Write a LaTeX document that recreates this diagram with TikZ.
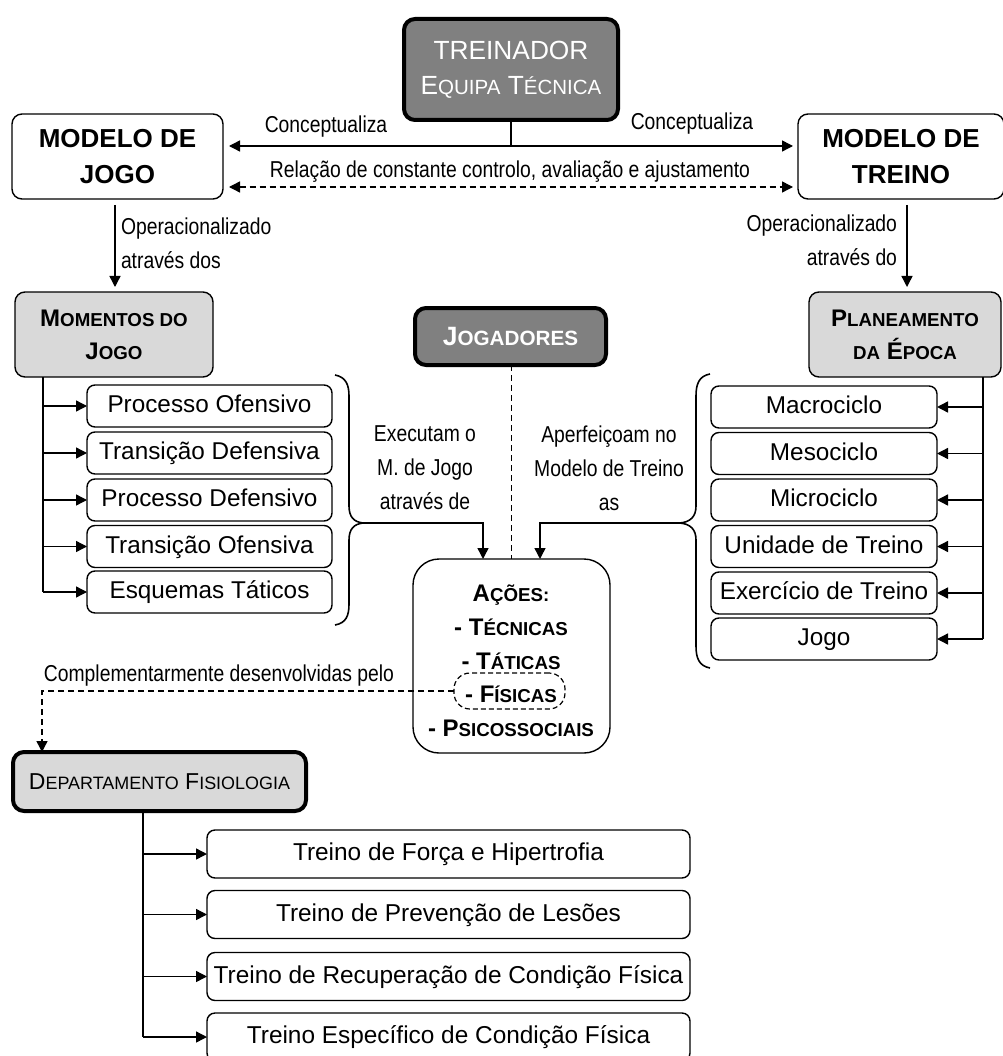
\documentclass[tikz,border=0pt]{standalone}
\usepackage{fontspec}
\setmainfont{Liberation Sans}
\newfontfamily\narrowfont[FakeStretch=0.84]{Liberation Sans}
\usetikzlibrary{arrows.meta,calc}
\definecolor{darkfill}{gray}{0.5}
\definecolor{lightfill}{gray}{0.85}
\makeatletter
% reduced capitals for the small-caps look
\newcommand\smc[1]{{\fontsize{\dimexpr0.78\dimexpr\f@size pt\relax\relax}{0pt}\selectfont #1}}
\makeatother
\newcommand\fs[2]{\fontsize{#1}{#2}\selectfont}

\begin{document}
\begin{tikzpicture}[x=1pt,y=-1pt,
  every node/.style={inner sep=0pt,outer sep=0pt},
  endtip/.style={-{Triangle[length=11pt,width=11pt]}},
  wire/.style={line width=1.4pt},
  conn/.style={wire,endtip},
  dconn/.style={wire,endtip,dash pattern=on 6pt off 4pt},
  roundbox/.style={draw,line width=1.4pt,rounded corners=10pt,fill=white},
  heavy/.style={draw,line width=4pt,rounded corners=11pt},
  darkbox/.style={heavy,fill=darkfill,text=white},
  headbox/.style={roundbox,fill=lightfill,font=\bfseries\fs{24}{33},align=center},
  itembox/.style={roundbox,rounded corners=8pt,minimum height=42pt,font=\fs{24.3}{28},text height=17.3pt,text depth=4pt},
  physbox/.style={roundbox,rounded corners=8pt,minimum width=483pt,minimum height=48pt,font=\fs{24.4}{28},text height=17.3pt,text depth=4pt},
  lbl/.style={font=\narrowfont\fs{23}{34}},
  oneline/.style={text height=16.6pt,text depth=0pt},
  brace/.style={line width=1.6pt},
]
\useasboundingbox (0,0) rectangle (1002,1056);
\fill[white] (0,0) rectangle (1002,1056);

% --- top level
\node[darkbox,minimum width=214pt,minimum height=101pt,font=\fs{26.3}{35},align=center] (coach) at (511,69.5) {TREINADOR\\E\smc{QUIPA} T\smc{ÉCNICA}};
\node[roundbox,minimum width=211pt,minimum height=85pt,font=\bfseries\fs{26}{36},align=center] (mj) at (117.5,156.5) {MODELO DE\\JOGO};
\node[roundbox,minimum width=206pt,minimum height=85pt,font=\bfseries\fs{26}{36},align=center] (mt) at (901,156.5) {MODELO DE\\TREINO};

\node[lbl,oneline] (cL) at (326,124) {Conceptualiza};
\node[lbl,oneline] (cR) at (692,121) {Conceptualiza};
\node[lbl,oneline] (rel) at (510,169) {Relação de constante controlo, avaliação e ajustamento};

\coordinate (junc) at (511,146);
\draw[wire] (coach.south) -- (junc);
\draw[conn,shorten >=6pt] (junc) -- (junc -| mj.east);
\draw[conn,shorten >=5pt] (junc) -- (junc -| mt.west);
\draw[wire,dash pattern=on 6pt off 4pt,{Triangle[length=11pt,width=11pt]}-{Triangle[length=11pt,width=11pt]},shorten <=6pt,shorten >=5pt]
  ($(mj.east)+(0,30.5)$) -- ($(mt.west)+(0,30.5)$);

% --- second level
\node[headbox,minimum width=198pt,minimum height=85pt] (mom) at (114,334.5) {M\smc{OMENTOS DO}\\J\smc{OGO}};
\node[headbox,minimum width=192pt,minimum height=85pt] (plan) at (905,334.5) {P\smc{LANEAMENTO}\\\smc{DA} É\smc{POCA}};
\node[darkbox,minimum width=191pt,minimum height=57pt,font=\bfseries\fs{26.5}{30}] (jog) at (510.5,336.5) {J\smc{OGADORES}};

\node[lbl,align=left,anchor=west] (opL) at (121,243) {Operacionalizado\\através dos};
\node[lbl,align=right,anchor=east] (opR) at (897,240.5) {Operacionalizado\\através do};
\draw[conn,shorten <=6pt,shorten >=5pt] ([xshift=1pt]mom.north |- mj.south) -- ([xshift=1pt]mom.north);
\draw[conn,shorten <=6pt,shorten >=5pt] ([xshift=2pt]plan.north |- mt.south) -- ([xshift=2pt]plan.north);

% --- moments of the game
\node[itembox,minimum width=245pt] (m1) at (209.5,406) {Processo Ofensivo};
\node[itembox,minimum width=245pt] (m2) at (209.5,453) {Transição Defensiva};
\node[itembox,minimum width=245pt] (m3) at (209.5,500) {Processo Defensivo};
\node[itembox,minimum width=245pt] (m4) at (209.5,546.5) {Transição Ofensiva};
\node[itembox,minimum width=245pt] (m5) at (209.5,592) {Esquemas Táticos};
\coordinate (tl) at (43,0);
\draw[wire] (tl |- mom.south) -- (tl |- m5.west);
\foreach \m in {m1,m2,m3,m4,m5} \draw[conn] (tl |- \m.west) -- (\m.west);

% --- season planning
\node[itembox,minimum width=226pt] (r1) at (824,407) {Macrociclo};
\node[itembox,minimum width=226pt] (r2) at (824,453.5) {Mesociclo};
\node[itembox,minimum width=226pt] (r3) at (824,500) {Microciclo};
\node[itembox,minimum width=226pt] (r4) at (824,546.5) {Unidade de Treino};
\node[itembox,minimum width=226pt] (r5) at (824,593) {Exercício de Treino};
\node[itembox,minimum width=226pt] (r6) at (824,639) {Jogo};
\coordinate (tr) at (983,0);
\draw[wire] (tr |- plan.south) -- (tr |- r6.east);
\foreach \r in {r1,r2,r3,r4,r5,r6} \draw[conn] (tr |- \r.east) -- (\r.east);

% --- braces
\draw[brace] (335,375) .. controls (346,377) and (349,385) .. (349,396) -- (349,506)
  .. controls (349,517) and (354,522) .. (363,523)
  .. controls (354,524) and (349,529) .. (349,540) -- (349,604)
  .. controls (349,616) and (346,623) .. (335,625);
\draw[brace] (710,374) .. controls (699,376) and (696,384) .. (696,396) -- (696,506)
  .. controls (696,517) and (690,522) .. (680,523)
  .. controls (690,524) and (696,529) .. (696,540) -- (696,646)
  .. controls (696,658) and (699,666) .. (710,668);
\coordinate (bL) at (363,523);
\coordinate (bR) at (680,523);

\node[lbl,align=center] (exe) at (425,468) {Executam o\\M. de Jogo\\através de};
\node[lbl,align=center] (apf) at (609,468) {Aperfeiçoam no\\Modelo de Treino\\as};

% --- actions
\node[roundbox,rounded corners=26pt,minimum width=197pt,minimum height=194pt] (act) at (511.5,656) {};
\node[font=\bfseries\fs{24}{33.75},align=center] (acttext) at (511,661)
  {A\smc{ÇÕES:}\\- T\smc{ÉCNICAS}\\- T\smc{ÁTICAS}\\- F\smc{ÍSICAS}\\- P\smc{SICOSSOCIAIS}};
\node[draw,dash pattern=on 5pt off 3pt,line width=1.2pt,rounded corners=16pt,minimum width=111pt,minimum height=36pt] (fis) at (509.5,691) {};

\draw[conn] (bL) -| ([xshift=-28.5pt]act.north);
\draw[conn] (bR) -| ([xshift=28.5pt]act.north);
\draw[wire,dash pattern=on 6pt off 4pt] ([xshift=1pt]jog.south) -- ([xshift=1pt]jog.south |- act.north);

% --- physiology department
\node[lbl,oneline] (comp) at (219,673) {Complementarmente desenvolvidas pelo};
\node[heavy,fill=lightfill,minimum width=293pt,minimum height=59pt,font=\fs{23}{28}] (dep) at (159.5,781.5) {D\smc{EPARTAMENTO} F\smc{ISIOLOGIA}};
\draw[dconn] (fis.west) -| ([xshift=-117.5pt]dep.north);

\node[physbox] (p1) at (448.5,854) {Treino de Força e Hipertrofia};
\node[physbox] (p2) at (448.5,914.5) {Treino de Prevenção de Lesões};
\node[physbox] (p3) at (448.5,976.5) {Treino de Recuperação de Condição Física};
\node[physbox] (p4) at (448.5,1037) {Treino Específico de Condição Física};
\coordinate (tp) at (143,0);
\draw[wire] (tp |- dep.south) -- (tp |- p4.west);
\foreach \p in {p1,p2,p3,p4} \draw[conn] (tp |- \p.west) -- (\p.west);
\end{tikzpicture}
\end{document}
